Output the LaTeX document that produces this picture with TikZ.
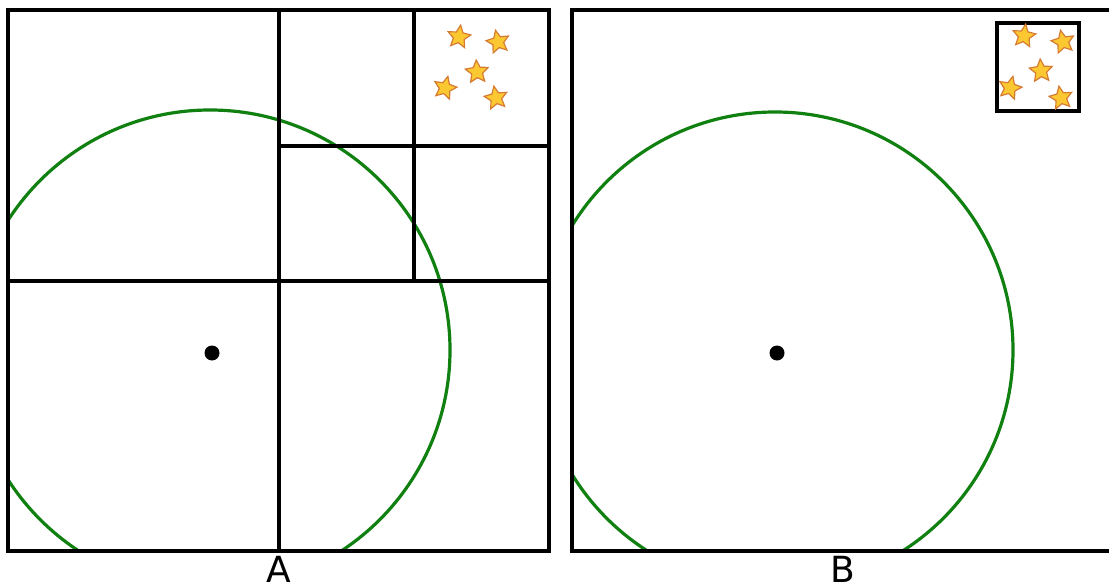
\documentclass[tikz,border=0pt]{standalone}
\usepackage{fontspec}
\setsansfont{DejaVu Sans}
\usetikzlibrary{shapes.geometric}
\definecolor{ringgreen}{RGB}{16,128,16}
\definecolor{starfill}{RGB}{252,200,50}
\definecolor{starline}{RGB}{214,124,50}

\begin{document}
\begin{tikzpicture}[
    x=1pt, y=-1pt,
    frame/.style={line width=3.5pt, line cap=rect},
    ring/.style={draw=ringgreen, line width=3.2pt},
    centre/.style={circle, fill=black, minimum width=13pt, minimum height=15pt, inner sep=0pt},
    starry/.style={star, star points=5, star point ratio=2.1, minimum size=24pt, inner sep=0pt,
                   fill=starfill, draw=starline, line width=1.2pt},
    caption/.style={font=\sffamily\fontsize{36}{40}\selectfont, inner sep=0pt}
]
    \useasboundingbox (0,0) rectangle (1109,586);

    % Panel A - outer box and quadtree split
    \begin{scope}
        \clip (8,10) rectangle (549,551);
        \draw[ring] (210,350) circle (240);
    \end{scope}
    \draw[frame] (8,10) rectangle (549,551);
    \draw[frame] (279,10) -- (279,551);
    \draw[frame] (8,281) -- (549,281);
    \draw[frame] (414,10) -- (414,281);
    \draw[frame] (279,146) -- (549,146);
    \node[centre] (dotA) at (212,353) {};

    % Panel B - outer box and one tight box
    \begin{scope}
        \clip (572,10) rectangle (1109,551);
        \draw[ring] (775,350) circle (238);
    \end{scope}
    \draw[frame] (1109,10) -- (572,10) -- (572,551) -- (1109,551);
    \draw[frame] (997,23) rectangle (1079,111);
    \node[centre] (dotB) at (777,353) {};

    % Stars
    \foreach \x/\y/\r/\n in {459/37/-8/a1, 498/42/12/a2, 477/72/4/a3, 445/88/-14/a4, 496/98/10/a5}
        \node[starry, rotate=\r] (star-\n) at (\x,\y) {};
    \foreach \x/\y/\r/\n in {1024/36/-8/b1, 1063/42/12/b2, 1041/71/4/b3, 1010/88/-14/b4, 1061/98/10/b5}
        \node[starry, rotate=\r] (star-\n) at (\x,\y) {};

    % Labels
    \node[caption] (labA) at (279,569) {A};
    \node[caption] (labB) at (843,569) {B};
\end{tikzpicture}
\end{document}
